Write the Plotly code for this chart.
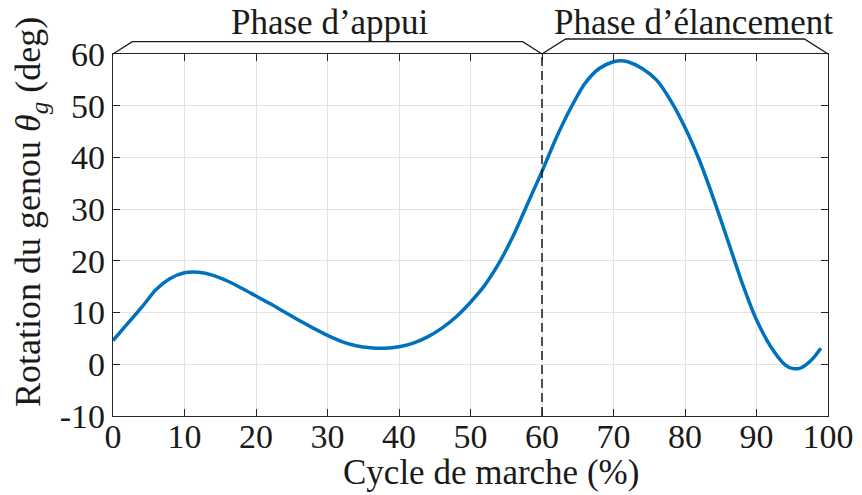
import plotly.graph_objects as go

# Gait cycle (% of stride) and knee flexion angle (deg)
cycle_pct = [0, 2, 4, 6, 8, 10, 12, 14, 16, 18, 20, 22, 24, 26, 28, 30, 32, 34, 36, 38,
             40, 42, 44, 46, 48, 50, 52, 54, 56, 58, 60, 62, 64, 66, 68, 70, 71, 72, 74,
             76, 78, 80, 82, 84, 86, 88, 90, 92, 94, 95, 96, 97, 98, 99]
knee_deg = [4.6, 7.8, 11.0, 14.4, 16.6, 17.7, 17.8, 17.2, 16.1, 14.7, 13.2, 11.7, 10.1,
            8.5, 7.0, 5.6, 4.4, 3.6, 3.2, 3.1, 3.4, 4.1, 5.3, 7.0, 9.2, 12.0, 15.3, 19.6,
            24.9, 31.1, 37.3, 43.8, 49.5, 54.3, 57.2, 58.5, 58.7, 58.5, 57.2, 55.0, 51.0,
            45.8, 39.5, 32.0, 23.9, 15.7, 8.6, 3.4, -0.1, -0.8, -0.8, 0.0, 1.3, 3.1]

# Phase boundaries (% of cycle) and their labels
phase_bounds = [0, 60, 100]
phase_names = ["Phase d\u2019appui", "Phase d\u2019\u00e9lancement"]

x_ticks = list(range(0, 101, 10))
y_ticks = list(range(-10, 61, 10))
y_ticktext = [str(v) for v in y_ticks]  # plain hyphen for -10

Y_MIN, Y_MAX = -10, 60
FONT = "Liberation Serif"
INK = "#262626"
TXT = "#1a1a1a"

W, H = 862, 495
ML, MR, MT, MB = 113, 34, 10, 79
plot_w = W - ML - MR
plot_h = H - MT - MB
main_h = 362
y2_max = Y_MIN + plot_h * (Y_MAX - Y_MIN) / main_h

fig = go.Figure()

fig.add_trace(go.Scatter(
    x=cycle_pct, y=knee_deg, mode="lines",
    line=dict(color="#0072BD", width=3.5, shape="spline", smoothing=0.7),
    showlegend=False, hoverinfo="skip"))

# Dashed line marking toe-off
fig.add_trace(go.Scatter(
    x=[phase_bounds[1], phase_bounds[1]], y=[Y_MIN, Y_MAX], mode="lines",
    line=dict(color=TXT, width=1.5, dash="9px,5px"),
    showlegend=False, hoverinfo="skip"))

# Braces above the axes for each phase
rise = [2.4, 2.9]
inset = [2.7, 3.3]
for i, name in enumerate(phase_names):
    a, b = phase_bounds[i], phase_bounds[i + 1]
    top = Y_MAX + rise[i]
    fig.add_trace(go.Scatter(
        x=[a, a + inset[i], b - inset[i], b],
        y=[Y_MAX, top, top, Y_MAX],
        mode="lines", line=dict(color=TXT, width=1.3),
        xaxis="x2", yaxis="y2", showlegend=False, hoverinfo="skip"))

label_pos = [30.3, 81.2]
for name, xc in zip(phase_names, label_pos):
    fig.add_annotation(text=name, x=xc, y=Y_MAX + 6.0, xref="x2", yref="y2",
                       xanchor="center", yanchor="middle", showarrow=False,
                       font=dict(family=FONT, size=35, color=TXT))

# Axis titles
fig.add_annotation(text="Cycle de marche (%)", x=(491 - ML) / plot_w,
                   y=-(472 - (MT + plot_h)) / plot_h,
                   xref="paper", yref="paper", xanchor="center", yanchor="middle",
                   showarrow=False, font=dict(family=FONT, size=35, color=TXT))
fig.add_annotation(text="Rotation du genou <i>\u03b8<sub>g</sub></i> (deg)",
                   x=(31 - ML) / plot_w, y=((MT + plot_h) - 212) / plot_h, textangle=-90,
                   xref="paper", yref="paper", xanchor="center", yanchor="middle",
                   showarrow=False, font=dict(family=FONT, size=36, color=TXT))

axis_common = dict(
    showline=True, linecolor=INK, linewidth=1.4, mirror="ticks",
    ticks="inside", ticklen=7, tickwidth=1.4, tickcolor=INK,
    showgrid=True, gridcolor="#e3e3e3", gridwidth=1, zeroline=False,
    automargin=False,
    tickfont=dict(family=FONT, size=34, color=TXT),
)

fig.update_layout(
    width=W, height=H,
    margin=dict(l=ML, r=MR, t=MT, b=MB, autoexpand=False),
    paper_bgcolor="white", plot_bgcolor="rgba(0,0,0,0)",
    xaxis=dict(domain=[0, 1], range=[0, 100], tickvals=x_ticks,
               ticktext=[str(v) for v in x_ticks], anchor="y",
               ticklabelstandoff=-10, **axis_common),
    yaxis=dict(domain=[0, main_h / plot_h], range=[Y_MIN, Y_MAX], tickvals=y_ticks,
               ticktext=y_ticktext, anchor="x", **axis_common),
    xaxis2=dict(domain=[0, 1], range=[0, 100], visible=False, anchor="y2"),
    yaxis2=dict(domain=[0, 1], range=[Y_MIN, y2_max], visible=False, anchor="x2"),
)

fig.write_html("out.html")
